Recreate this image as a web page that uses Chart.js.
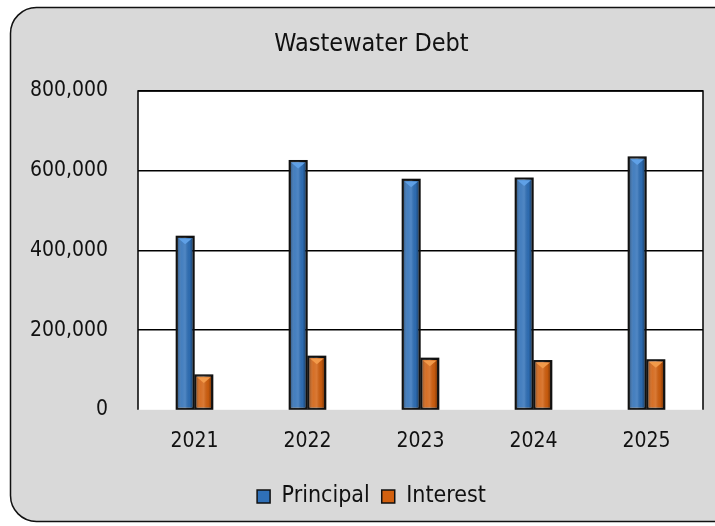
<!DOCTYPE html>
<html>
<head>
<meta charset="utf-8">
<script src="https://cdn.jsdelivr.net/npm/chart.js@4.4.0/dist/chart.umd.min.js"></script>
<style>
  html, body { margin: 0; padding: 0; background: #fff; }
  #wrap { width: 715px; height: 526px; }
</style>
</head>
<body>
<div id="wrap"><canvas id="debtChart" width="715" height="526"></canvas></div>
<script>
// data
const years = ['2021', '2022', '2023', '2024', '2025'];
const principal = [435000, 625000, 578000, 581000, 634000];
const interest = [87000, 134000, 129000, 123000, 125000];
const yTicks = [0, 200000, 400000, 600000, 800000];

const FONT = "'DejaVu Sans Condensed', 'Liberation Sans', sans-serif";

// grey rounded panel + white plot area
const panelPlugin = {
  id: 'panel',
  // title and legend are centred on the grey panel, not on the canvas
  afterLayout(chart) {
    [chart.titleBlock, chart.legend].forEach(box => {
      if (box) { box.left += 15; box.right += 15; }
    });
  },
  beforeDraw(chart) {
    const c = chart.ctx;
    const a = chart.chartArea;
    c.save();
    c.fillStyle = '#fff';
    c.fillRect(0, 0, chart.width, chart.height);
    c.beginPath();
    c.roundRect(10.5, 7.5, 740, 514, 26);
    c.fillStyle = '#d9d9d9';
    c.fill();
    c.lineWidth = 1.5;
    c.strokeStyle = '#111';
    c.stroke();
    c.fillStyle = '#fff';
    c.fillRect(a.left, a.top, a.right - a.left, a.bottom - a.top);
    c.restore();
  },
  afterDraw(chart) {
    const c = chart.ctx;
    const a = chart.chartArea;
    c.save();
    c.strokeStyle = '#000';
    c.lineWidth = 1.5;
    c.beginPath();
    c.moveTo(a.left, a.bottom);
    c.lineTo(a.left, a.top);
    c.lineTo(a.right, a.top);
    c.lineTo(a.right, a.bottom);
    c.stroke();
    c.restore();
  }
};

// cylinder-ish shading on each bar, like the bevelled office bars
const bevelPlugin = {
  id: 'bevel',
  afterDatasetsDraw(chart) {
    const c = chart.ctx;
    chart.data.datasets.forEach((ds, i) => {
      const meta = chart.getDatasetMeta(i);
      meta.data.forEach(bar => {
        const p = bar.getProps(['x', 'y', 'base', 'width'], true);
        const l = p.x - p.width / 2, r = p.x + p.width / 2;
        const g = c.createLinearGradient(l, 0, r, 0);
        g.addColorStop(0, 'rgba(0,0,0,0.45)');
        g.addColorStop(0.3, 'rgba(255,255,255,0.10)');
        g.addColorStop(0.5, 'rgba(255,255,255,0.16)');
        g.addColorStop(0.75, 'rgba(0,0,0,0.05)');
        g.addColorStop(1, 'rgba(0,0,0,0.5)');
        c.save();
        c.fillStyle = g;
        c.fillRect(l, p.y, p.width, p.base - p.y);
        // little light facet at the top
        c.beginPath();
        c.moveTo(l + 2, p.y + 2);
        c.lineTo(r - 2, p.y + 2);
        c.lineTo(p.x, p.y + p.width / 2 - 1);
        c.closePath();
        c.fillStyle = ds.facet;
        c.fill();
        c.strokeStyle = '#111';
        c.lineWidth = 1.5;
        c.strokeRect(l, p.y, p.width, p.base - p.y);
        c.restore();
      });
    });
  }
};

new Chart(document.getElementById('debtChart'), {
  type: 'bar',
  data: {
    labels: years,
    datasets: [
      {
        label: 'Principal',
        data: principal,
        backgroundColor: '#2f70b8',
        facet: '#5fa0e6',
        borderColor: '#111',
        borderWidth: 1.5,
        borderSkipped: false,
        categoryPercentage: 0.33,
        barPercentage: 0.94
      },
      {
        label: 'Interest',
        data: interest,
        backgroundColor: '#d2600f',
        facet: '#f29a4a',
        borderColor: '#111',
        borderWidth: 1.5,
        borderSkipped: false,
        categoryPercentage: 0.33,
        barPercentage: 0.94
      }
    ]
  },
  options: {
    responsive: false,
    animation: false,
    layout: { padding: { left: 10, right: 12, top: 0, bottom: 8 } },
    plugins: {
      title: {
        display: true,
        text: 'Wastewater Debt',
        color: '#111',
        font: { family: FONT, size: 25, weight: 'normal', lineHeight: 1.2 },
        padding: { top: 29, bottom: 32 }
      },
      legend: {
        position: 'bottom',
        labels: {
          color: '#111',
          font: { family: FONT, size: 23 },
          boxWidth: 13,
          boxHeight: 13,
          padding: 12
        }
      },
      tooltip: { enabled: false }
    },
    scales: {
      x: {
        grid: { display: false, drawTicks: false },
        border: { display: false },
        ticks: { color: '#111', font: { family: FONT, size: 21 }, padding: 19 }
      },
      y: {
        min: 0,
        max: 800000,
        afterBuildTicks(scale) {
          scale.ticks = yTicks.map(v => ({ value: v }));
        },
        afterFit(scale) { scale.width = 128; },
        grid: {
          color: ctx => (ctx.tick && ctx.tick.value === 0 ? 'rgba(0,0,0,0)' : '#000'),
          lineWidth: 1.5,
          drawTicks: false
        },
        border: { display: false },
        ticks: {
          color: '#111',
          font: { family: FONT, size: 21 },
          padding: 30,
          callback: v => v.toLocaleString('en-US')
        }
      }
    }
  },
  plugins: [panelPlugin, bevelPlugin]
});
</script>
</body>
</html>
